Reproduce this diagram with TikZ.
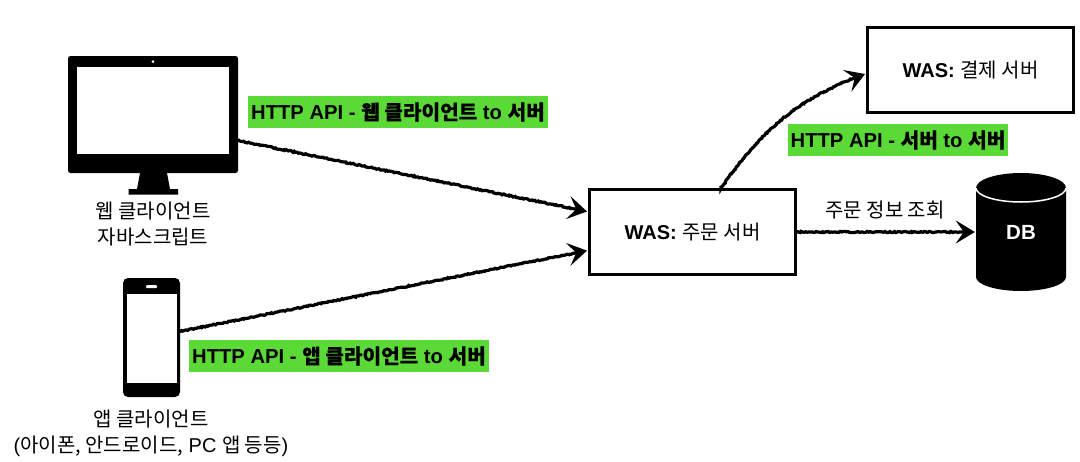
\documentclass[tikz,border=0pt]{standalone}
\usepackage{fontspec}
\setmainfont{Liberation Sans}
\newfontfamily\cjk{Noto Sans CJK KR}
\newfontfamily\cjkheavy[FakeBold=0.2]{Noto Sans CJK KR}
\usetikzlibrary{arrows.meta,decorations.pathmorphing}
\newcommand{\kr}[1]{{\cjk #1}}
\newcommand{\krb}[1]{{\cjkheavy #1}}
\definecolor{labelgreen}{RGB}{91,217,55}
\tikzset{
	wasbox/.style={draw,line width=3pt,fill=white,minimum width=206pt,minimum height=85pt,inner sep=0pt,font=\fontsize{20}{24}\selectfont},
	apilabel/.style={fill=labelgreen,inner xsep=3pt,inner ysep=0pt,minimum height=32pt,font=\fontsize{20.2}{24}\selectfont\bfseries},
	captiontext/.style={inner sep=0pt,align=center,font=\fontsize{20}{26}\selectfont},
	roughline/.style={line width=3.2pt,-{Stealth[length=19pt,width=23pt,inset=8pt]},shorten >=1pt,shorten <=2pt,decorate,
		decoration={random steps,segment length=1.5pt,amplitude=.6pt,post length=16pt,post=lineto}},
	icon/.style={fill=black,draw=none,inner sep=0pt}
}
\begin{document}
\begin{tikzpicture}[x=1pt,y=-1pt]
	\useasboundingbox[fill=white] (0,0) rectangle (1080,461);
	% web client
	\node[icon,minimum width=170pt,minimum height=117pt,rounded corners=2.5pt] (webicon) at (153,114.5) {};
	\fill[white] (77,67) rectangle (229,154);
	\fill[white] (153,61.5) circle (1.5pt);
	\fill (140,173) -- (167,173) -- (170,189) -- (178,189) -- (178,194.5) -- (128.5,194.5) -- (128.5,189) -- (137,189) -- cycle;
	\node[captiontext] (webtext) at (153,224.5) {\kr{웹 클라이언트}\\\kr{자바스크립트}};
	% app client
	\node[icon,minimum width=57pt,minimum height=119pt,rounded corners=5pt] (appicon) at (151.5,337.5) {};
	\fill[white] (126.5,294) rectangle (176.5,382.5);
	\fill[white,rounded corners=1pt] (146,285) rectangle (157,288);
	\node[captiontext] (apptext) at (151,433) {\kr{앱 클라이언트}\\(\kr{아이폰, 안드로이드,} PC \kr{앱 등등})};
	% servers
	\node[wasbox] (orderwas) at (692.5,232) {\textbf{WAS:} \kr{주문 서버}};
	\node[wasbox] (paywas) at (970.5,70) {\textbf{WAS:} \kr{결제 서버}};
	\fill (976,188) arc[start angle=180,end angle=0,x radius=45pt,y radius=15pt] -- (1066,277)
		arc[start angle=0,end angle=-180,x radius=45pt,y radius=14pt] -- cycle;
	\draw[white,line width=1.5pt] (976,188) arc[start angle=180,end angle=360,x radius=45pt,y radius=14pt];
	\node[inner sep=0pt,minimum width=90pt,minimum height=118pt,text=white,font=\fontsize{20.5}{24}\selectfont\bfseries] (db) at (1021,232) {DB};
	% connectors
	\draw[roughline] (webicon.-17.5) -- (orderwas.169.5);
	\draw[roughline] (appicon.12) -- (orderwas.190.5);
	\draw[roughline] (orderwas.57) to[out=55,in=200] (paywas.182);
	\draw[roughline] (orderwas.east) -- (db.west);
	% labels
	\node[apilabel] (webapi) at (398,112) {HTTP API - \krb{웹 클라이언트} to \krb{서버}};
	\node[apilabel] (appapi) at (339,356) {HTTP API - \krb{앱 클라이언트} to \krb{서버}};
	\node[apilabel] (serverapi) at (898,140) {HTTP API - \krb{서버} to \krb{서버}};
	\node[captiontext] (querytext) at (885,210) {\kr{주문 정보 조회}};
\end{tikzpicture}
\end{document}
